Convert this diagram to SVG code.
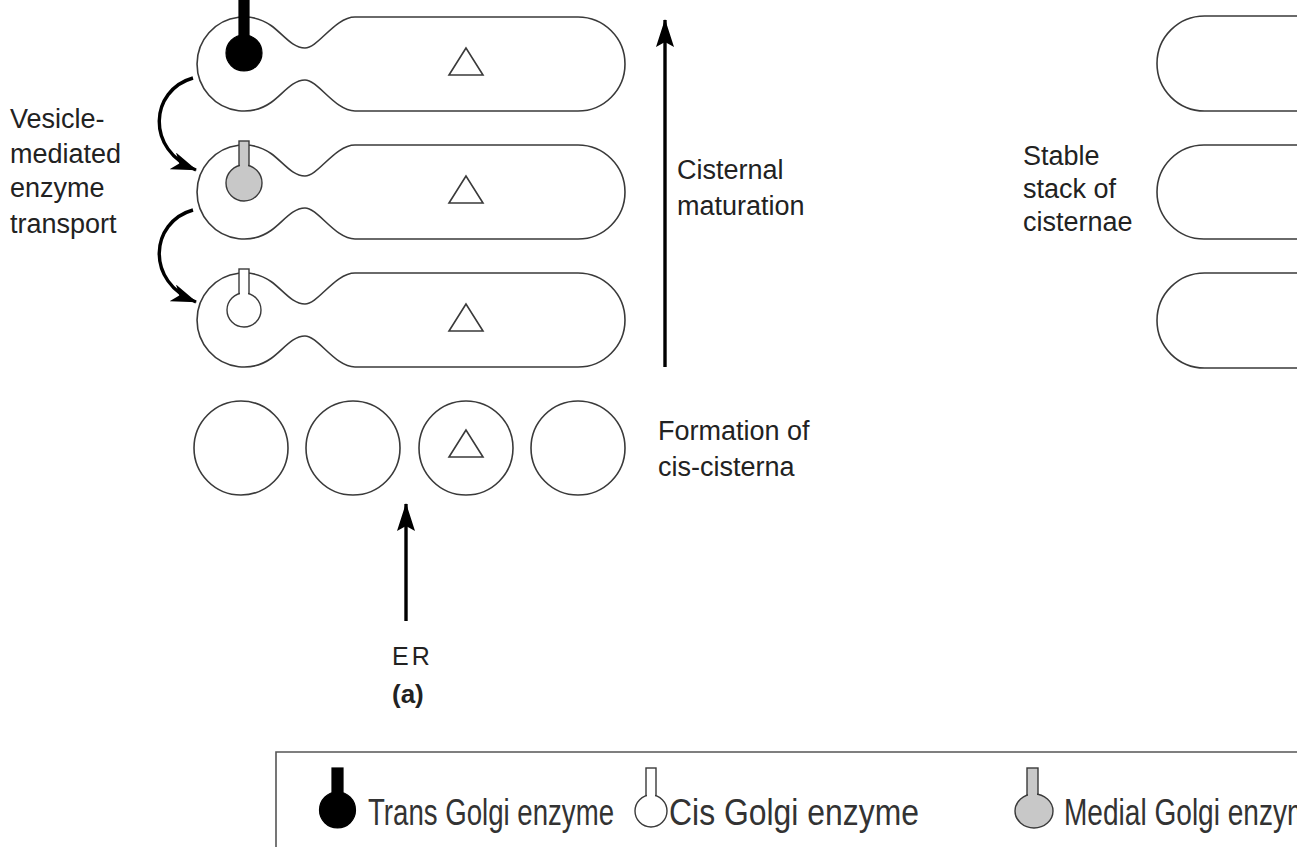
<svg xmlns="http://www.w3.org/2000/svg" width="1312" height="847" viewBox="0 0 1312 847">
  <style>
    .outline { fill: #fff; stroke: #3a3a3a; stroke-width: 1.6; }
    .tri { fill: #fff; stroke: #3a3a3a; stroke-width: 1.6; stroke-linejoin: miter; }
    .label { font-family: "Liberation Sans", Arial, sans-serif; font-size: 27px; fill: #222; }
    .legend { font-family: "Liberation Sans", Arial, sans-serif; font-size: 36px; fill: #333; }
    .arrow { fill: none; stroke: #000; stroke-width: 3.4; }
    .trans { fill: #000; stroke: #000; stroke-width: 1.2; }
    .medial { fill: #c8c8c8; stroke: #3a3a3a; stroke-width: 1.4; }
    .cis { fill: #fff; stroke: #3a3a3a; stroke-width: 1.4; }
  </style>
  <defs>
    <marker id="headCurve" viewBox="0 0 26 18" refX="25" refY="9" markerWidth="26" markerHeight="18" markerUnits="userSpaceOnUse" orient="auto">
      <path d="M0,0 L26,9 L0,18 L7,9 z" fill="#000"/>
    </marker>
    <marker id="headStraight" viewBox="0 0 28 18" refX="27" refY="9" markerWidth="28" markerHeight="18" markerUnits="userSpaceOnUse" orient="auto">
      <path d="M0,0 L28,9 L0,18 L5,9 z" fill="#000"/>
    </marker>
    <clipPath id="frame">
      <rect x="0" y="0" width="1297" height="847"/>
    </clipPath>
    <!-- cisterna: bulb on the left, neck, long rounded body -->
    <path id="cisterna" d="M271,-38.5 C283,-30 292,-16 305,-16 C318,-16 335,-47 355,-47 H578 A47,47 0 0 1 578,47 H355 C335,47 318,16 305,16 C292,16 283,30 271,38.5 A47,47 0 1 1 271,-38.5 Z"/>
    <polygon id="triangle" points="466,-16 449,11 483,11"/>
  </defs>

  <!-- maturing stack -->
  <g id="cisterna-trans">
    <use href="#cisterna" class="outline" transform="translate(0,64)"/>
    <use href="#triangle" class="tri" transform="translate(0,64)"/>
    <rect class="trans" x="239" y="0" width="10" height="40"/>
    <circle class="trans" cx="244" cy="53" r="18"/>
  </g>
  <g id="cisterna-medial">
    <use href="#cisterna" class="outline" transform="translate(0,192)"/>
    <use href="#triangle" class="tri" transform="translate(0,192)"/>
    <rect class="medial" x="239" y="141" width="10" height="30"/>
    <circle class="medial" cx="244" cy="183" r="18"/>
    <rect x="240" y="160" width="8" height="8" fill="#c8c8c8"/>
  </g>
  <g id="cisterna-cis">
    <use href="#cisterna" class="outline" transform="translate(0,320)"/>
    <use href="#triangle" class="tri" transform="translate(0,320)"/>
    <rect class="cis" x="239" y="269" width="10" height="28"/>
    <circle class="cis" cx="244" cy="310" r="17"/>
    <rect x="240" y="290" width="8" height="6" fill="#fff"/>
  </g>

  <!-- vesicles forming the cis cisterna -->
  <g id="vesicle-1"><circle class="outline" cx="241" cy="448" r="47"/></g>
  <g id="vesicle-2"><circle class="outline" cx="353" cy="448" r="47"/></g>
  <g id="vesicle-3">
    <circle class="outline" cx="466" cy="448" r="47"/>
    <polygon class="tri" points="466,430 449,457 483,457"/>
  </g>
  <g id="vesicle-4"><circle class="outline" cx="578" cy="448" r="47"/></g>

  <!-- stable stack -->
  <g id="stable-stack" clip-path="url(#frame)">
    <rect class="outline" x="1157" y="16" width="300" height="95" rx="47.5"/>
    <rect class="outline" x="1157" y="145" width="300" height="94" rx="47"/>
    <rect class="outline" x="1157" y="273" width="300" height="95" rx="47.5"/>
  </g>

  <!-- connectors -->
  <g id="connectors">
    <path class="arrow" d="M193,78 C150,90 145,150 196,170" marker-end="url(#headCurve)"/>
    <path class="arrow" d="M193,210 C150,222 145,282 196,302" marker-end="url(#headCurve)"/>
    <line class="arrow" x1="665" y1="367" x2="665" y2="20" marker-end="url(#headStraight)"/>
    <line class="arrow" x1="406" y1="621" x2="406" y2="504" marker-end="url(#headStraight)"/>
  </g>

  <!-- labels -->
  <g id="labels">
    <text class="label" x="10" y="128">Vesicle-</text>
    <text class="label" x="10" y="163">mediated</text>
    <text class="label" x="10" y="197">enzyme</text>
    <text class="label" x="10" y="233">transport</text>
    <text class="label" x="677" y="179">Cisternal</text>
    <text class="label" x="677" y="215">maturation</text>
    <text class="label" x="658" y="440">Formation of</text>
    <text class="label" x="658" y="476">cis-cisterna</text>
    <text class="label" x="1023" y="165">Stable</text>
    <text class="label" x="1023" y="198">stack of</text>
    <text class="label" x="1023" y="231">cisternae</text>
    <text class="label" x="392" y="665" style="font-size:25px; letter-spacing:3px">ER</text>
    <text class="label" x="392" y="703" style="font-size:26px; font-weight:bold">(a)</text>
  </g>

  <!-- legend -->
  <g id="legend" clip-path="url(#frame)">
    <path d="M276,847 V752 H1312" fill="none" stroke="#555" stroke-width="1.6"/>
    <g id="legend-trans">
      <rect class="trans" x="332" y="768" width="11" height="30"/>
      <ellipse class="trans" cx="337.5" cy="810" rx="18" ry="18"/>
      <text class="legend" x="368" y="825" textLength="246" lengthAdjust="spacingAndGlyphs">Trans Golgi enzyme</text>
    </g>
    <g id="legend-cis">
      <rect class="cis" x="646" y="768" width="10" height="28"/>
      <circle class="cis" cx="651" cy="811" r="16"/>
      <rect x="647" y="792" width="8" height="6" fill="#fff"/>
      <text class="legend" x="669" y="825" textLength="250" lengthAdjust="spacingAndGlyphs">Cis Golgi enzyme</text>
    </g>
    <g id="legend-medial">
      <rect class="medial" x="1027" y="768" width="11" height="30"/>
      <ellipse class="medial" cx="1034" cy="811" rx="19" ry="17"/>
      <rect x="1028" y="790" width="9" height="8" fill="#c8c8c8"/>
      <text class="legend" x="1064" y="825" textLength="262" lengthAdjust="spacingAndGlyphs">Medial Golgi enzyme</text>
    </g>
  </g>
</svg>
